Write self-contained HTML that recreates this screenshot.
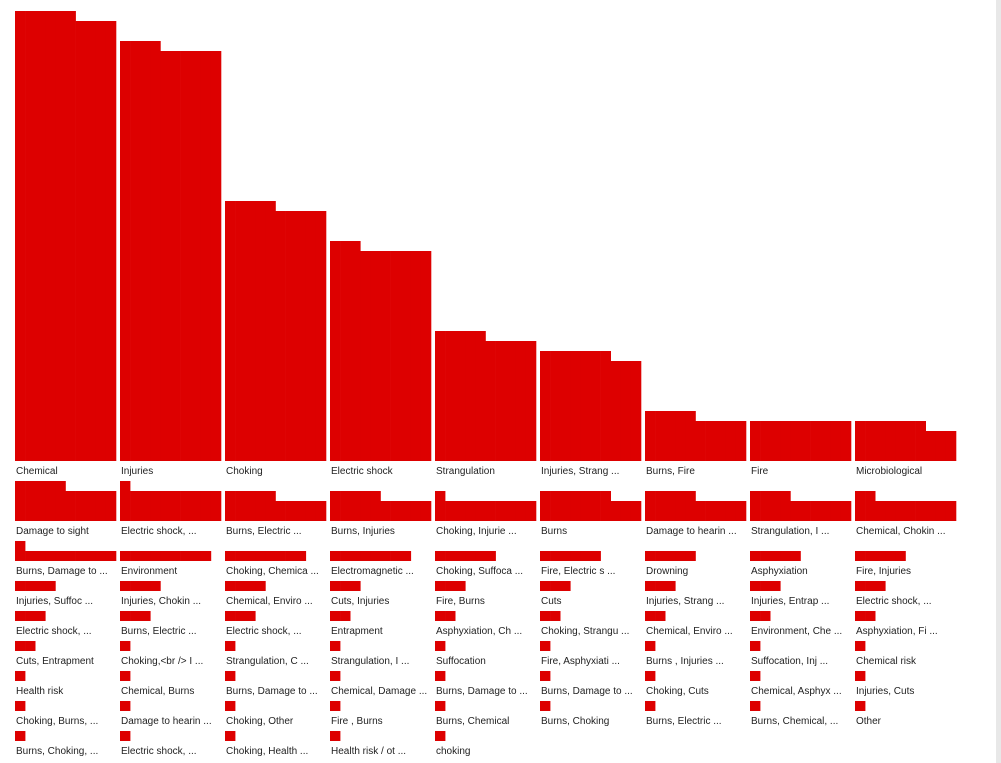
<!DOCTYPE html>
<html><head><meta charset="utf-8">
<style>
html,body{margin:0;padding:0;background:#fff;width:1001px;height:763px;overflow:hidden;font-family:"Liberation Sans",Arial,sans-serif;}
#scroll{position:absolute;left:996px;top:0;width:5px;height:763px;background:#e8e8e8;}
</style></head>
<body>
<svg id="chart" width="1001" height="763" style="position:absolute;left:0;top:0"></svg>
<div id="scroll"></div>
<script>
const categories = ["Chemical","Injuries","Choking","Electric shock","Strangulation","Injuries, Strang ...","Burns, Fire","Fire","Microbiological",
"Damage to sight","Electric shock, ...","Burns, Electric ...","Burns, Injuries","Choking, Injurie ...","Burns","Damage to hearin ...","Strangulation, I ...","Chemical, Chokin ...",
"Burns, Damage to ...","Environment","Choking, Chemica ...","Electromagnetic ...","Choking, Suffoca ...","Fire, Electric s ...","Drowning","Asphyxiation","Fire, Injuries",
"Injuries, Suffoc ...","Injuries, Chokin ...","Chemical, Enviro ...","Cuts, Injuries","Fire, Burns","Cuts","Injuries, Strang ...","Injuries, Entrap ...","Electric shock, ...",
"Electric shock, ...","Burns, Electric ...","Electric shock, ...","Entrapment","Asphyxiation, Ch ...","Choking, Strangu ...","Chemical, Enviro ...","Environment, Che ...","Asphyxiation, Fi ...",
"Cuts, Entrapment","Choking,<br /> I ...","Strangulation, C ...","Strangulation, I ...","Suffocation","Fire, Asphyxiati ...","Burns , Injuries ...","Suffocation, Inj ...","Chemical risk",
"Health risk","Chemical, Burns","Burns, Damage to ...","Chemical, Damage ...","Burns, Damage to ...","Burns, Damage to ...","Choking, Cuts","Chemical, Asphyx ...","Injuries, Cuts",
"Choking, Burns, ...","Damage to hearin ...","Choking, Other","Fire , Burns","Burns, Chemical","Burns, Choking","Burns, Electric ...","Burns, Chemical, ...","Other",
"Burns, Choking, ...","Electric shock, ...","Choking, Health ...","Health risk / ot ...","choking"];
const counts = [446,414,255,213,125,107,45,40,37,
35,31,25,25,21,27,25,24,22,
11,9,8,8,6,6,5,5,5,
4,4,4,3,3,3,3,3,3,
3,3,3,2,2,2,2,2,2,
2,1,1,1,1,1,1,1,1,
1,1,1,1,1,1,1,1,1,
1,1,1,1,1,1,1,1,1,
1,1,1,1,1];
const NS="http://www.w3.org/2000/svg";
const svg=document.getElementById('chart');
const COLS=9, X0=15, PITCH=105, CW=101, UNIT=10, PER=10;
const bw=CW/PER;
function cellX(i){return X0+(i%COLS)*PITCH;}
let yTop=11;
for(let r=0;r*COLS<counts.length;r++){
  const rowVals=counts.slice(r*COLS,r*COLS+COLS);
  const maxRows=Math.ceil(Math.max(...rowVals)/PER);
  const bottom=yTop+maxRows*UNIT;
  rowVals.forEach((v,j)=>{
    const idx=r*COLS+j;
    const x=cellX(idx);
    const g=document.createElementNS(NS,'g');
    
    
    const full=Math.floor(v/PER), rem=v%PER;
    for(let c=0;c<PER;c++){
      const h=(full+(c<rem?1:0))*UNIT;
      if(h<=0) continue;
      const rc=document.createElementNS(NS,'rect');
      
      
      rc.setAttribute('x',(x+c*bw).toFixed(2));
      rc.setAttribute('y',bottom-h);
      rc.setAttribute('width',(bw+0.3).toFixed(2));
      rc.setAttribute('height',h);
      rc.setAttribute('fill','#dd0000');
      g.appendChild(rc);
    }
    const t=document.createElementNS(NS,'text');
    
    
    t.setAttribute('x',x+1);
    t.setAttribute('y',bottom+13);
    t.setAttribute('font-size','10');
    t.setAttribute('fill','#222');
    t.textContent=categories[idx];
    g.appendChild(t);
    svg.appendChild(g);
  });
  yTop=bottom+20;
}
</script>
</body></html>
